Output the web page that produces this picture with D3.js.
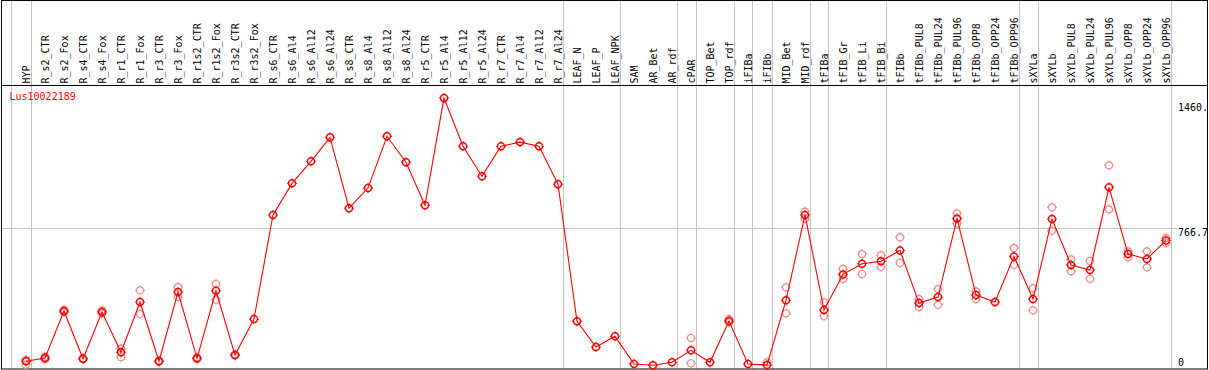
<!DOCTYPE html>
<html>
<head>
<meta charset="utf-8">
<script src="https://cdn.jsdelivr.net/npm/d3@7"></script>
<style>
  html, body { margin: 0; padding: 0; background: #fff; }
  svg { display: block; }
  text { font-family: "DejaVu Sans Mono", "Liberation Mono", monospace; font-size: 10px; }
</style>
</head>
<body>
<svg id="chart" width="1209" height="370"></svg>
<script>
const categories = ["HYP","R_s2_CTR","R_s2_Fox","R_s4_CTR","R_s4_Fox","R_r1_CTR","R_r1_Fox","R_r3_CTR","R_r3_Fox","R_r1s2_CTR","R_r1s2_Fox","R_r3s2_CTR","R_r3s2_Fox","R_s6_CTR","R_s6_Al4","R_s6_Al12","R_s6_Al24","R_s8_CTR","R_s8_Al4","R_s8_Al12","R_s8_Al24","R_r5_CTR","R_r5_Al4","R_r5_Al12","R_r5_Al24","R_r7_CTR","R_r7_Al4","R_r7_Al12","R_r7_Al24","LEAF_N","LEAF_P","LEAF_NPK","SAM","AR_Bet","AR_rdf","cPAR","TOP_Bet","TOP_rdf","iFIBa","iFIBb","MID_Bet","MID_rdf","tFIBa","tFIB_Gr","tFIB_Li","tFIB_Bi","tFIBb","tFIBb_PUL8","tFIBb_PUL24","tFIBb_PUL96","tFIBb_OPP8","tFIBb_OPP24","tFIBb_OPP96","sXYLa","sXYLb","sXYLb_PUL8","sXYLb_PUL24","sXYLb_PUL96","sXYLb_OPP8","sXYLb_OPP24","sXYLb_OPP96"];

const meanValues = [35,53,311,49,306,84,361,35,416,51,423,69,267,840,1014,1135,1267,877,988,1273,1130,893,1483,1218,1053,1218,1241,1218,1009,255,113,172,20,13,29,95,29,256,20,14,370,840,317,513,572,585,645,355,388,821,399,361,612,377,818,565,537,992,625,598,700];

const repA = [43,60,318,52,315,104,425,38,443,56,460,72,null,null,null,null,null,null,null,null,null,null,null,null,null,null,null,null,null,null,null,null,null,null,null,163,null,267,null,29,442,858,359,543,625,618,717,377,432,849,420,null,658,436,882,596,587,1113,640,640,713];
const repB = [16,44,304,46,298,57,295,32,387,46,374,66,null,null,null,null,null,null,null,null,null,null,null,null,null,null,null,null,null,null,null,null,null,null,null,24,null,249,null,null,299,819,284,488,515,555,576,333,346,792,376,null,566,315,753,530,489,871,607,552,686];

// last category index of each group (-1 = boundary before the first group)
const groupEnds = [-1,0,28,31,34,35,37,38,39,41,42,45,52,53,60];
const axisTicks = [0, 766.7, 1460];
const axisTickLabels = ["0", "766.7", "1460."];
const probeName = "Lus10022189";

const svg = d3.select("#chart");
const x = d3.scaleLinear().domain([0, categories.length - 1]).range([26, 1166]);
const y = d3.scaleLinear().domain([0, 1460]).range([367.6, 102.3]);

const mainColor = "#ff0000";
const repColor = "#ec8c8c";

// group separators
svg.append("g").selectAll("line").data(groupEnds).join("line")
  .attr("x1", d => Math.round(x(d) + 4.5) + 0.5)
  .attr("x2", d => Math.round(x(d) + 4.5) + 0.5)
  .attr("y1", 0).attr("y2", 369)
  .attr("stroke", "#c4c4c4").attr("stroke-width", 1);

// horizontal gridline (middle tick)
svg.append("line")
  .attr("x1", 1).attr("x2", 1177)
  .attr("y1", Math.round(y(axisTicks[1])) + 0.5).attr("y2", Math.round(y(axisTicks[1])) + 0.5)
  .attr("stroke", "#c4c4c4").attr("stroke-width", 1);

// frame and divider
svg.append("rect").attr("x", 1.5).attr("y", 0.5).attr("width", 1206).attr("height", 368.5)
  .attr("fill", "none").attr("stroke", "#000").attr("stroke-width", 1);
svg.append("line").attr("x1", 1).attr("x2", 1208).attr("y1", 85.5).attr("y2", 85.5)
  .attr("stroke", "#000").attr("stroke-width", 1);

// category labels
svg.append("g").selectAll("text").data(categories).join("text")
  .attr("transform", (d, i) => `translate(${x(i) + 3.8},83.5) rotate(-90)`)
  .attr("text-anchor", "start")
  .attr("fill", "#000")
  .text(d => d);

// right-side value labels
const labelTop = [359, 229, 103];
svg.append("defs").append("clipPath").attr("id", "frameClip")
  .append("rect").attr("x", 0).attr("y", 0).attr("width", 1207).attr("height", 370);
svg.append("g").attr("clip-path", "url(#frameClip)").selectAll("text").data(axisTicks).join("text")
  .attr("x", 1178)
  .attr("y", (d, i) => i === 0 ? 366 : y(d) + 8.2)
  .attr("fill", "#000")
  .text((d, i) => axisTickLabels[i]);

// probe name
svg.append("text").attr("x", 9.5).attr("y", 100).attr("fill", mainColor).text(probeName);

function marker(g, cx, cy, color, sw) {
  g.append("circle").attr("cx", cx).attr("cy", cy).attr("r", 3.5)
    .attr("fill", "none").attr("stroke", color).attr("stroke-width", sw);
  const t = [[0,-1],[0,1],[-1,0],[1,0]];
  t.forEach(([dx, dy]) => {
    g.append("line")
      .attr("x1", cx + dx * 3.5).attr("y1", cy + dy * 3.5)
      .attr("x2", cx + dx * 5).attr("y2", cy + dy * 5)
      .attr("stroke", color).attr("stroke-width", 1);
  });
}

// replicate markers
const repG = svg.append("g");
[repA, repB].forEach(arr => {
  arr.forEach((v, i) => { if (v !== null) marker(repG, x(i), y(v), repColor, 1.2); });
});

// mean line
const line = d3.line().x((d, i) => x(i)).y(d => y(d));
svg.append("path").datum(meanValues).attr("d", line)
  .attr("fill", "none").attr("stroke", mainColor).attr("stroke-width", 1.1);

// mean markers
const meanG = svg.append("g");
meanValues.forEach((v, i) => marker(meanG, x(i), y(v), mainColor, 1.5));
</script>
</body>
</html>
